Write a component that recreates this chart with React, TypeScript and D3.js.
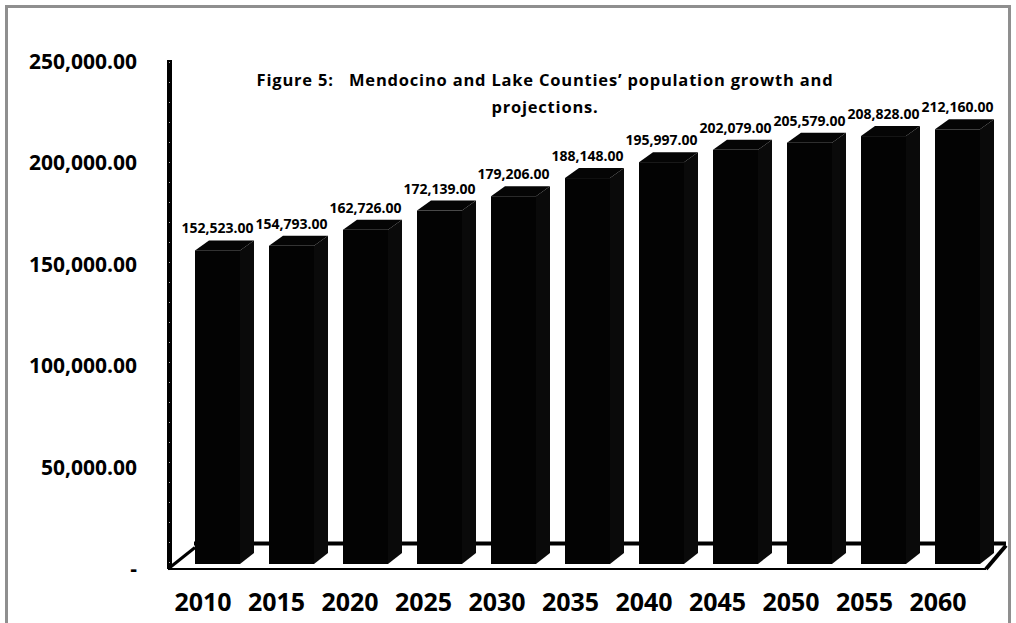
import React from "react";
import * as d3 from "d3";

const years = ["2010", "2015", "2020", "2025", "2030", "2035", "2040", "2045", "2050", "2055", "2060"];
const population = [152523, 154793, 162726, 172139, 179206, 188148, 195997, 202079, 205579, 208828, 212160];
const yTicks = [0, 50000, 100000, 150000, 200000, 250000];
const titleLines = ["Figure 5:   Mendocino and Lake Counties\u2019 population growth and", "projections."];

const W = 1016;
const H = 623;
const FONT = "'Open Sans', 'Noto Sans', sans-serif";

export default function App() {
  const y = d3.scaleLinear().domain([0, 250000]).range([568.5, 61]);
  const xBar = d3.scalePoint<string>().domain(years).range([217.5, 957.5]);
  const xLabel = d3.scalePoint<string>().domain(years).range([203, 938]);
  const barW = 45;
  const dx = 14;
  const dy = 10;
  const frontOffset = 8.5;
  const frontBottom = 564;
  const fmt = (v: number) => (v === 0 ? "-" : d3.format(",.2f")(v));

  const floorFrontY = 569;
  const floorBackY = 543.5;

  return (
    <svg width={W} height={H} style={{ position: "absolute", left: 0, top: 0, background: "#fff" }}>
      <rect x={0} y={0} width={W} height={H} fill="#fff" />
      <rect x={6.5} y={6.5} width={1003} height={660} fill="none" stroke="#8f8f8f" strokeWidth={3} />

      {/* floor */}
      <line x1={168} y1={floorFrontY} x2={986} y2={floorFrontY} stroke="#000" strokeWidth={2} />
      <line x1={194} y1={floorBackY} x2={1006} y2={floorBackY} stroke="#000" strokeWidth={4} />
      <line x1={168} y1={floorFrontY} x2={195} y2={floorBackY + 4} stroke="#000" strokeWidth={3} />
      <line x1={986} y1={floorFrontY} x2={1006} y2={floorBackY + 2} stroke="#000" strokeWidth={4} />

      {/* y axis */}
      <line x1={169.5} y1={60} x2={169.5} y2={floorFrontY} stroke="#000" strokeWidth={5} />
      <line x1={169.5} y1={62} x2={169.5} y2={566} stroke="#fff" strokeWidth={1} strokeDasharray="1 19" opacity={0.7} />

      {/* y tick labels */}
      {yTicks.map((t) => (
        <text
          key={t}
          x={137}
          y={y(t)}
          dy="0.36em"
          textAnchor="end"
          fontFamily={FONT}
          fontWeight={700}
          fontSize={21}
          fill="#000"
        >
          {fmt(t)}
        </text>
      ))}

      {/* bars */}
      {years.map((yr, i) => {
        const v = population[i];
        const cx = xBar(yr) as number;
        const x0 = cx - barW / 2;
        const x1 = cx + barW / 2;
        const top = y(v) - frontOffset;
        const side = `M${x1},${top} L${x1 + dx},${top - dy} L${x1 + dx},${frontBottom - dy - 1} L${x1},${frontBottom} Z`;
        const topFace = `M${x0},${top} L${x0 + dx},${top - dy} L${x1 + dx},${top - dy} L${x1},${top} Z`;
        return (
          <g key={yr}>
            <rect x={x0} y={top} width={barW} height={frontBottom - top} fill="#030303" />
            <path d={side} fill="#0a0a0a" />
            <path d={topFace} fill="#050505" />
            <text
              x={cx}
              y={top - dy - 7}
              textAnchor="middle"
              fontFamily={FONT}
              fontWeight={700}
              fontSize={14}
              fill="#000"
            >
              {fmt(v)}
            </text>
          </g>
        );
      })}

      {/* x labels */}
      {years.map((yr) => (
        <text
          key={yr}
          x={xLabel(yr) as number}
          y={611}
          textAnchor="middle"
          fontFamily={FONT}
          fontWeight={700}
          fontSize={25}
          fill="#000"
        >
          {yr}
        </text>
      ))}

      {/* title */}
      {titleLines.map((line, i) => (
        <text
          key={i}
          x={545}
          y={86 + i * 27}
          textAnchor="middle"
          fontFamily={FONT}
          fontWeight={700}
          fontSize={16.5}
          letterSpacing={0.8}
          fill="#000"
          style={{ whiteSpace: "pre" }}
        >
          {line}
        </text>
      ))}
    </svg>
  );
}
